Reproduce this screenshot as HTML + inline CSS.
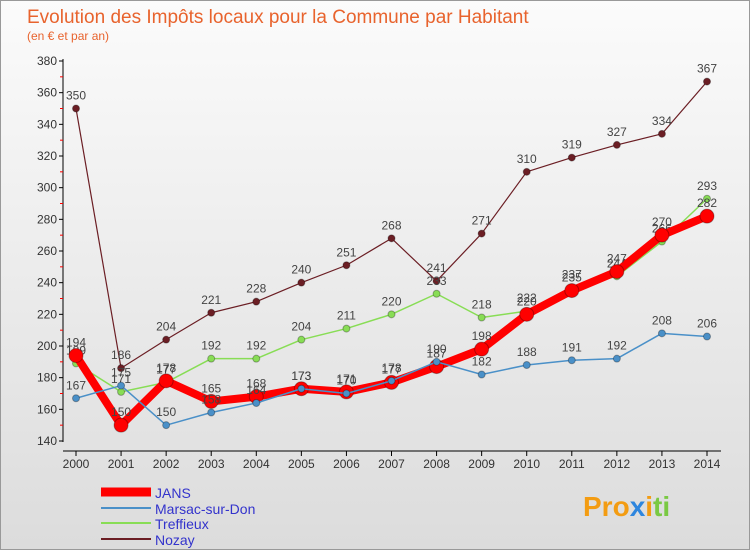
<!DOCTYPE html>
<html><head><meta charset="utf-8"><style>
body{margin:0;width:750px;height:550px;overflow:hidden;font-family:"Liberation Sans",sans-serif}
#wrap{position:relative;width:748px;height:548px;border:1px solid #999;background:linear-gradient(#fbfbfb,#dcdcdc)}
</style></head><body>
<div id="wrap">
<svg id="chart" width="748" height="548">
<text x="26" y="22" font-size="19" fill="#e8632d">Evolution des Impôts locaux pour la Commune par Habitant</text>
<text x="26" y="39" font-size="12" fill="#e8632d">(en € et par an)</text>
<g id="axes"></g><g id="series"></g>
<g>
<line x1="100" y1="491" x2="150" y2="491" stroke="#f00" stroke-width="9"/><text x="154" y="497" font-size="14" fill="#33c">JANS</text>
<line x1="100" y1="507" x2="150" y2="507" stroke="#4a90c8" stroke-width="2"/><text x="154" y="513" font-size="14" fill="#33c">Marsac-sur-Don</text>
<line x1="100" y1="522" x2="150" y2="522" stroke="#88dd55" stroke-width="2"/><text x="154" y="528" font-size="14" fill="#33c">Treffieux</text>
<line x1="100" y1="538" x2="150" y2="538" stroke="#6b1e24" stroke-width="2"/><text x="154" y="544" font-size="14" fill="#33c">Nozay</text>
</g>
<text x="582" y="515" font-size="28" font-weight="bold"><tspan fill="#f39c12">Pro</tspan><tspan fill="#2e86de">x</tspan><tspan fill="#f39c12">i</tspan><tspan fill="#7ac943">ti</tspan></text>
</svg></div>
<script>
const years=[2000,2001,2002,2003,2004,2005,2006,2007,2008,2009,2010,2011,2012,2013,2014];
const yTicks=[140,160,180,200,220,240,260,280,300,320,340,360,380];
const jans=[194,150,178,165,168,173,171,177,187,198,220,235,247,270,282];
const marsac=[167,175,150,158,164,173,170,178,190,182,188,191,192,208,206];
const treffieux=[189,171,177,192,192,204,211,220,233,218,222,237,244,266,293];
const nozay=[350,186,204,221,228,240,251,268,241,271,310,319,327,334,367];
const NS="http://www.w3.org/2000/svg";
const X=i=>75+i*(706-75)/14, Y=v=>440-(v-140)*380/240;
function mk(t,a,p){const e=document.createElementNS(NS,t);for(const k in a)e.setAttribute(k,a[k]);p.appendChild(e);return e;}
const ax=document.getElementById('axes');
const yl=mk('line',{x1:62,y1:58,x2:62,y2:441,stroke:'#000'},ax);


const xl=mk('line',{x1:62,y1:450,x2:720,y2:450,stroke:'#000'},ax);


yTicks.forEach(v=>{mk('line',{x1:58,y1:Y(v),x2:62,y2:Y(v),stroke:'#000'},ax);
 if(v<380)mk('line',{x1:59,y1:Y(v+10),x2:62,y2:Y(v+10),stroke:'#f00'},ax);
 const t=mk('text',{x:56,y:Y(v)+4,'font-size':12,'text-anchor':'end',fill:'#333'},ax);t.textContent=v;
 
 });
years.forEach((y,i)=>{mk('line',{x1:X(i),y1:450,x2:X(i),y2:455,stroke:'#000'},ax);
 const t=mk('text',{x:X(i),y:467,'font-size':12,'text-anchor':'middle',fill:'#333'},ax);t.textContent=y;
 
 });
const sg=document.getElementById('series');
function series(d,c,w,r,name){const g=mk('g',{},sg);
 
 
 mk('polyline',{points:d.map((v,i)=>X(i)+','+Y(v)).join(' '),fill:'none',stroke:c,'stroke-width':w,'stroke-linejoin':'round'},g);
 d.forEach((v,i)=>{const p=mk('circle',{cx:X(i),cy:Y(v),r:r,fill:c,stroke:'rgba(0,0,0,0.3)'},g);
  
  
  const t=mk('text',{x:X(i),y:Y(v)-9,'font-size':12,'text-anchor':'middle',fill:'#444'},g);t.textContent=v;});}
series(nozay,'#6b1e24',1.2,3.5,'series-nozay');
series(treffieux,'#88dd55',1.5,3.5,'series-treffieux');
series(jans,'#f00',8,7,'series-jans');
series(marsac,'#4a90c8',1.5,3.5,'series-marsac');
</script></body></html>
